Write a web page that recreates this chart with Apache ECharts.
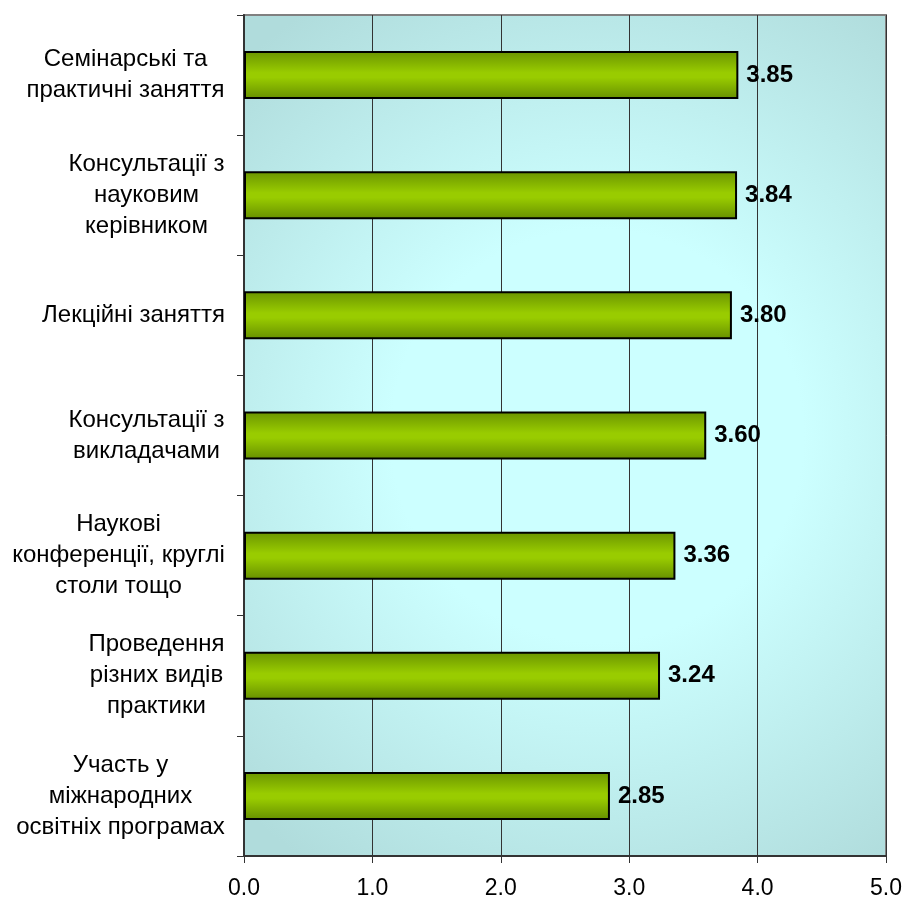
<!DOCTYPE html>
<html>
<head>
<meta charset="utf-8">
<script src="https://cdn.jsdelivr.net/npm/echarts@6/dist/echarts.min.js"></script>
<style>html,body{margin:0;padding:0;background:#fff}#c{width:907px;height:901px}</style>
</head>
<body>
<div id="c"></div>
<script>
const categories = [
  "Семінарські та\nпрактичні заняття",
  "Консультації з\nнауковим\nкерівником",
  "Лекційні заняття",
  "Консультації з\nвикладачами",
  "Наукові\nконференції, круглі\nстоли тощо",
  "Проведення\nрізних видів\nпрактики",
  "Участь у\nміжнародних\nосвітніх програмах"
];
const values = [3.85, 3.84, 3.80, 3.60, 3.36, 3.24, 2.85];
const xTicks = [0, 1, 2, 3, 4, 5];

const FONT = '"Liberation Sans", Arial, sans-serif';
const catFontSize = 24;
const ctx = document.createElement('canvas').getContext('2d');
ctx.font = catFontSize + 'px ' + FONT;
const rich = {};
categories.forEach((c, i) => {
  const w = Math.max(...c.split('\n').map(l => ctx.measureText(l).width));
  rich['c' + i] = { width: Math.ceil(w), align: 'center', fontSize: catFontSize, fontFamily: FONT, color: '#000', lineHeight: 31 };
});

const chart = echarts.init(document.getElementById('c'), null, { renderer: 'canvas' });
chart.setOption({
  animation: false,
  backgroundColor: '#fff',
  grid: {
    left: 244, right: 21, top: 15, bottom: 45,
    show: true,
    borderColor: '#808080', borderWidth: 2,
    backgroundColor: {
      type: 'radial', x: 0.55, y: 0.5, r: 0.8,
      colorStops: [
        { offset: 0, color: '#ccffff' },
        { offset: 0.4, color: '#ccffff' },
        { offset: 1, color: '#b0dcdc' }
      ]
    }
  },
  xAxis: {
    type: 'value', min: xTicks[0], max: xTicks[xTicks.length - 1], interval: 1,
    axisLine: { show: true, lineStyle: { color: '#333', width: 2 } },
    axisTick: { show: true, length: 7, lineStyle: { color: '#333', width: 1 } },
    axisLabel: { margin: 21, fontSize: 23, fontFamily: FONT, color: '#000', formatter: v => v.toFixed(1) },
    splitLine: { show: true, lineStyle: { color: '#333', width: 1 } }
  },
  yAxis: {
    type: 'category', data: categories, inverse: true,
    axisLine: { show: true, lineStyle: { color: '#333', width: 2 } },
    axisTick: { show: true, length: 7, lineStyle: { color: '#333', width: 1 } },
    axisLabel: {
      margin: 19, align: 'right', interval: 0,
      formatter: (v, i) => '{c' + i + '|' + v + '}',
      rich: rich
    },
    splitLine: { show: false }
  },
  series: [{
    type: 'bar', data: values, barWidth: 48,
    itemStyle: {
      borderColor: '#000', borderWidth: 2,
      color: {
        type: 'linear', x: 0, y: 0, x2: 0, y2: 1,
        colorStops: [
          { offset: 0, color: '#6a9400' },
          { offset: 0.45, color: '#99cc00' },
          { offset: 0.55, color: '#99cc00' },
          { offset: 1, color: '#668f00' }
        ]
      }
    },
    label: {
      show: true, position: 'right', distance: 8,
      fontSize: 24, fontWeight: 'bold', fontFamily: FONT, color: '#000',
      formatter: p => p.value.toFixed(2)
    }
  }]
});
</script>
</body>
</html>
